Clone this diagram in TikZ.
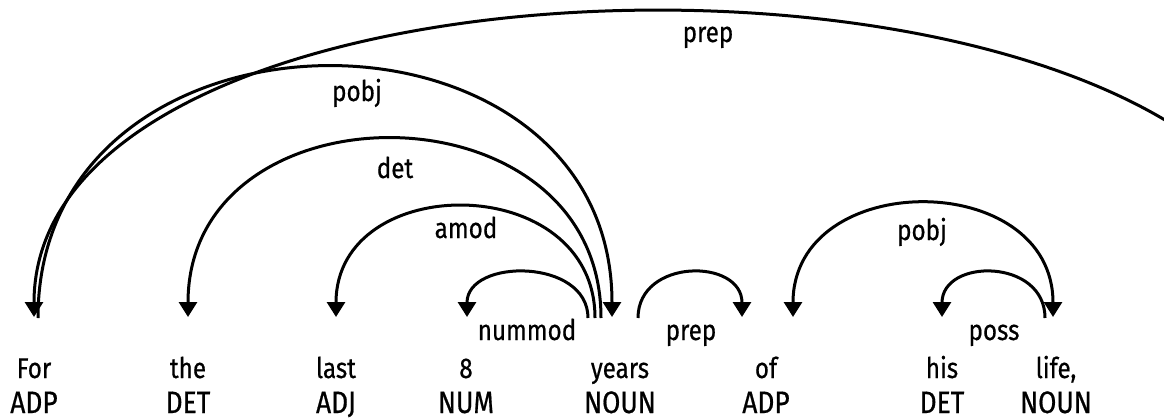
\documentclass[tikz,border=0pt]{standalone}
\usepackage{fontspec}
\setmainfont{Fira Sans}[FakeStretch=0.85,FakeBold=0.6]
\usetikzlibrary{arrows.meta}
\tikzset{
  word/.style={anchor=base, font=\fontsize{28.5}{30}\selectfont, inner sep=0pt},
  tag/.style={anchor=base, font=\fontsize{31}{33}\selectfont, inner sep=0pt, text depth=0pt},
  lbl/.style={anchor=base, font=\fontsize{28.5}{30}\selectfont, inner sep=0pt},
  arc/.style={line width=3pt, draw=black},
  head/.style={-{Triangle[width=18pt,length=15pt]}},
  heads/.style={{Triangle[width=18pt,length=15pt]}-{Triangle[width=18pt,length=15pt]}},
}
\begin{document}
\begin{tikzpicture}[x=1pt,y=-1pt]
\useasboundingbox (0,0) rectangle (1164,420);
\clip (0,0) rectangle (1164,420);
% words
\node[word] (w1) at (34,378) {For};
\node[word] (w2) at (188,378) {the};
\node[word] (w3) at (336,378) {last};
\node[word] (w4) at (466,378) {8};
\node[word] (w5) at (620,378) {years};
\node[word] (w6) at (766,378) {of};
\node[word] (w7) at (942,378) {his};
\node[word] (w8) at (1056,378) {life,};
% tags
\node[tag] (t1) at (34,413) {ADP};
\node[tag] (t2) at (188,413) {DET};
\node[tag] (t3) at (336,413) {ADJ};
\node[tag] (t4) at (466,413) {NUM};
\node[tag] (t5) at (620,413) {NOUN};
\node[tag] (t6) at (766,413) {ADP};
\node[tag] (t7) at (942,413) {DET};
\node[tag] (t8) at (1056,413) {NOUN};
% arc end points
\coordinate (aR) at (1300,318);
\coordinate (aFor) at (34,317);
\coordinate (bFor) at (38,318);
\coordinate (bYears) at (612,317);
\coordinate (cYears) at (601,318);
\coordinate (cThe) at (188,317);
\coordinate (dYears) at (595,318);
\coordinate (dLast) at (336,317);
\coordinate (eYears) at (588,318);
\coordinate (eEight) at (467,317);
\coordinate (fYears) at (638,318);
\coordinate (fOf) at (742,317);
\coordinate (gOf) at (793,317);
\coordinate (gLife) at (1053,317);
\coordinate (hLife) at (1045,318);
\coordinate (hHis) at (942,317);
% arcs
\draw[arc,head] (aR) .. controls (1300,-90) and (34,-90) .. (aFor);
\draw[arc,head] (bFor) .. controls (38,-16) and (612,-16) .. (bYears);
\draw[arc,head] (cYears) .. controls (601,80) and (188,80) .. (cThe);
\draw[arc,head] (dYears) .. controls (595,170) and (336,170) .. (dLast);
\draw[arc,head] (eYears) .. controls (588,258) and (467,258) .. (eEight);
\draw[arc,head] (fYears) .. controls (638,258) and (742,258) .. (fOf);
\draw[arc,heads] (gOf) .. controls (793,168) and (1053,168) .. (gLife);
\draw[arc,head] (hLife) .. controls (1045,258) and (942,258) .. (hHis);
% labels
\node[lbl] (l1) at (708,42) {prep};
\node[lbl] (l2) at (357,101) {pobj};
\node[lbl] (l3) at (395,178) {det};
\node[lbl] (l4) at (466,238) {amod};
\node[lbl] (l5) at (527,340) {nummod};
\node[lbl] (l6) at (691,340) {prep};
\node[lbl] (l7) at (922,240) {pobj};
\node[lbl] (l8) at (994,340) {poss};
\end{tikzpicture}
\end{document}
